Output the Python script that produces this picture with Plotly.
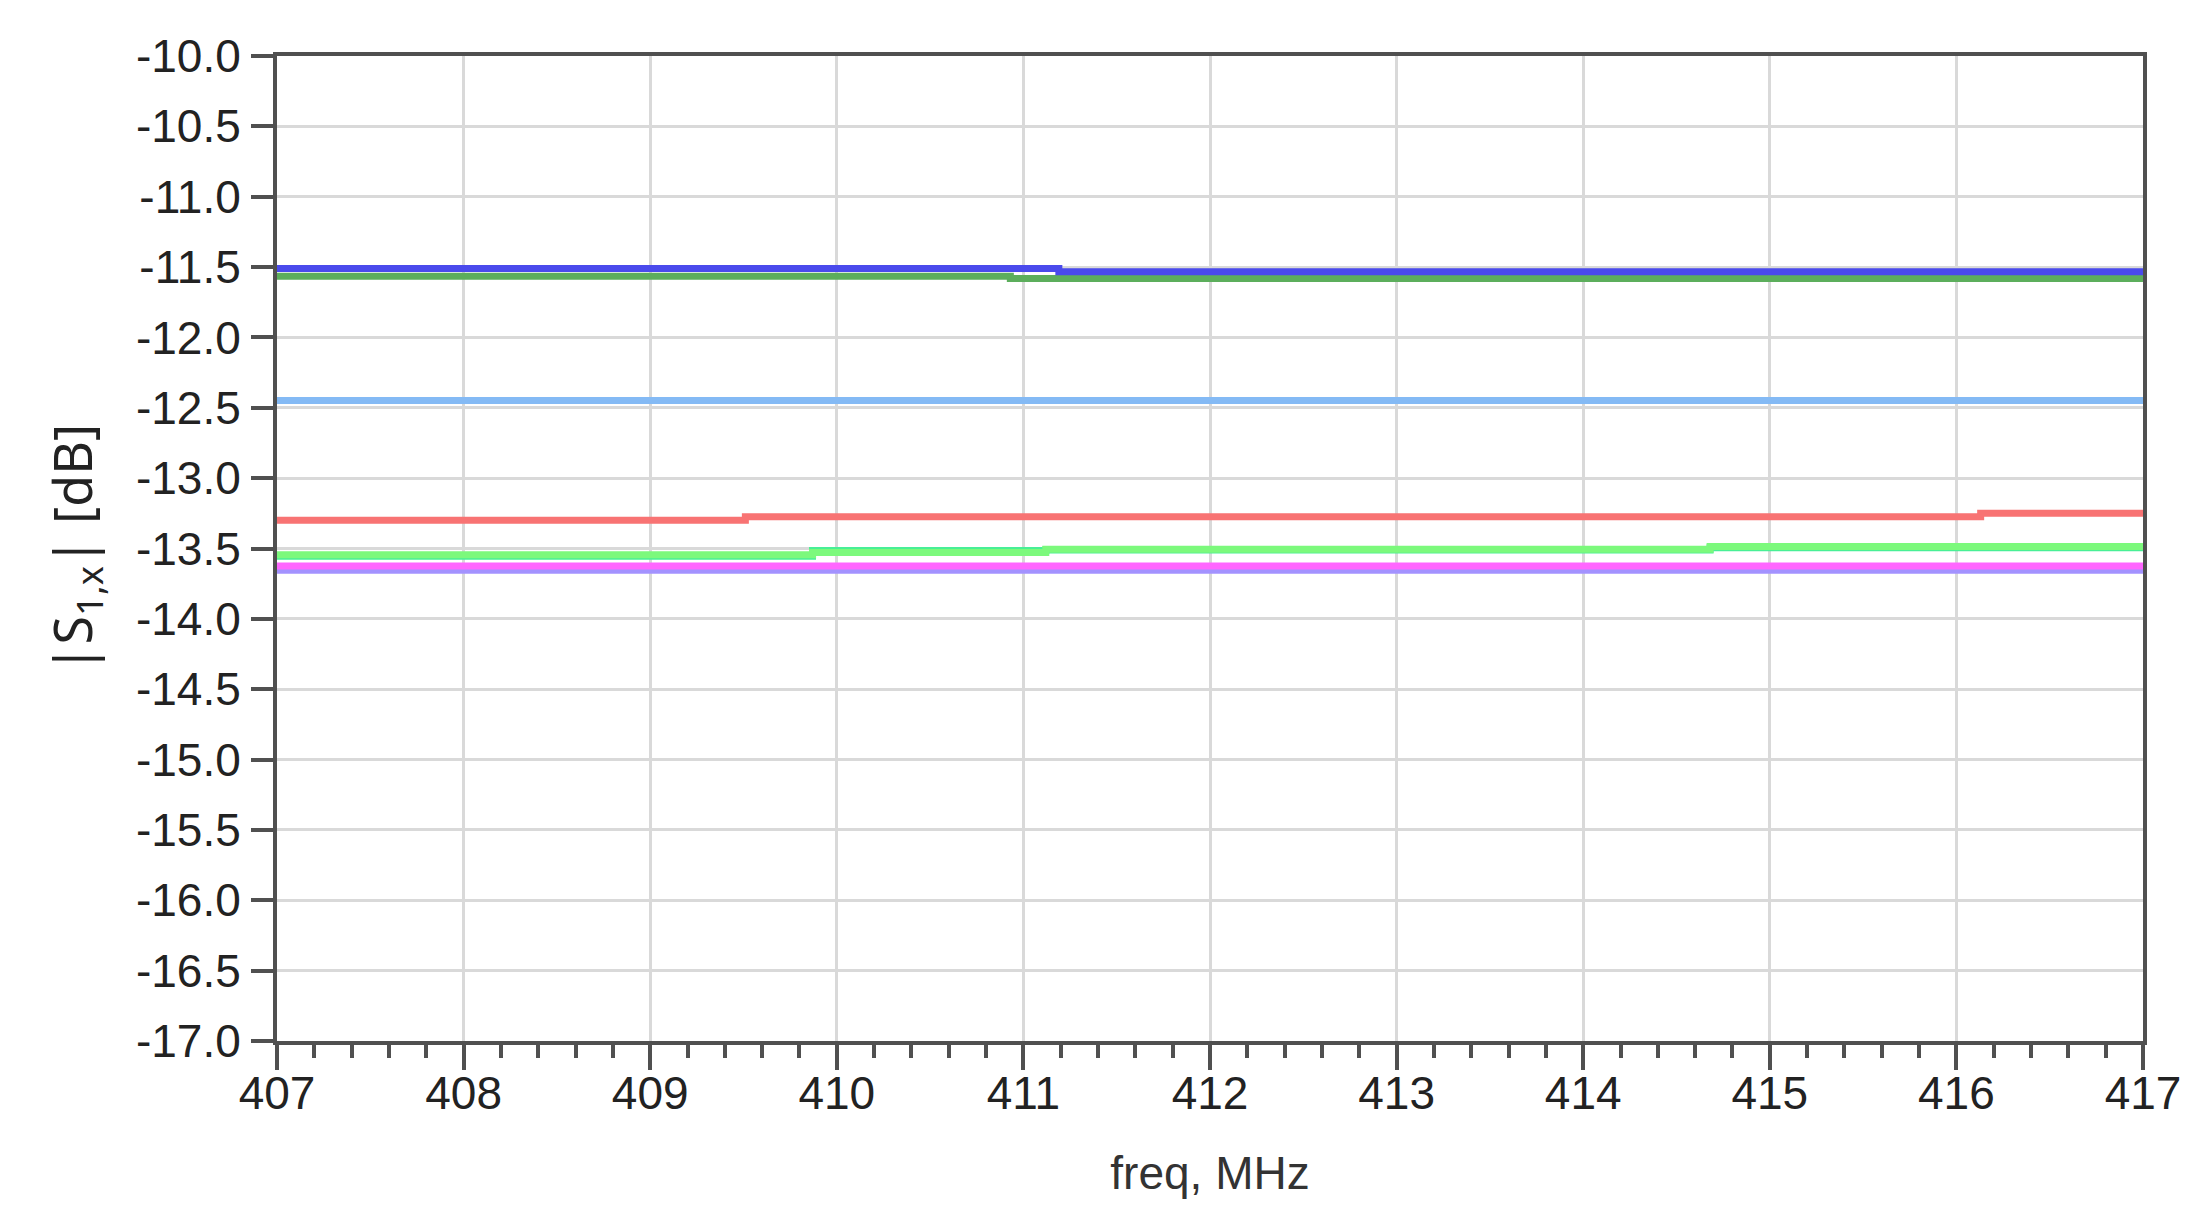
import plotly.graph_objects as go

# Frequency breakpoints (MHz) and |S1,x| levels (dB) for each trace (step-wise flat)
freq_lavender = [407, 417]
s_lavender = [-13.655, -13.655]

freq_magenta = [407, 417]
s_magenta = [-13.625, -13.625]

freq_spring = [407, 409.87, 411.12, 414.68, 417]
s_spring = [-13.555, -13.515, -13.51, -13.495, -13.495]

freq_lime = [407, 409.87, 411.12, 414.68, 417]
s_lime = [-13.545, -13.528, -13.505, -13.485, -13.485]

freq_red = [407, 409.51, 416.13, 417]
s_red = [-13.30, -13.274, -13.25, -13.25]

freq_lightblue = [407, 417]
s_lightblue = [-12.448, -12.448]

freq_darkgreen = [407, 410.93, 417]
s_darkgreen = [-11.565, -11.582, -11.582]

freq_blue = [407, 411.19, 417]
s_blue = [-11.51, -11.533, -11.533]

x_ticks = [407, 408, 409, 410, 411, 412, 413, 414, 415, 416, 417]
y_ticks = [-10.0, -10.5, -11.0, -11.5, -12.0, -12.5, -13.0, -13.5, -14.0,
           -14.5, -15.0, -15.5, -16.0, -16.5, -17.0]

traces = [
    (freq_lavender, s_lavender, "#a392ff"),
    (freq_magenta, s_magenta, "#ff66ff"),
    (freq_spring, s_spring, "#48ef96"),
    (freq_lime, s_lime, "#7cf97c"),
    (freq_red, s_red, "#f87373"),
    (freq_lightblue, s_lightblue, "#84baf5"),
    (freq_darkgreen, s_darkgreen, "#5cae5c"),
    (freq_blue, s_blue, "#4a4aec"),
]

fig = go.Figure()
for fx, fy, col in traces:
    fig.add_trace(go.Scatter(x=fx, y=fy, mode="lines", line=dict(color=col, width=7, shape="hv"),
                             showlegend=False, hoverinfo="skip"))

axis_col = "#505050"
grid_col = "#d9d9d9"
tick_font = dict(family="Liberation Sans, Arial, sans-serif", size=46, color="#222222")

fig.update_layout(
    width=2179, height=1209,
    margin=dict(l=269, r=44, t=48, b=176, autoexpand=False),
    paper_bgcolor="white", plot_bgcolor="white",
    showlegend=False,
)

fig.update_xaxes(
    range=[407, 417],
    tickmode="array", tickvals=x_ticks, ticktext=[str(v) for v in x_ticks],
    tickfont=tick_font,
    ticks="outside", ticklen=25, tickwidth=4, tickcolor=axis_col,
    ticklabelstandoff=-16,
    minor=dict(dtick=0.2, ticks="outside", ticklen=13, tickwidth=4, tickcolor=axis_col, showgrid=False),
    showgrid=True, gridcolor=grid_col, gridwidth=3,
    showline=True, linecolor=axis_col, linewidth=4, mirror=True,
    zeroline=False,
    title=dict(text="freq, MHz", font=dict(family="Liberation Sans, Arial, sans-serif", size=46, color="#333333"),
               standoff=40),
)

fig.update_yaxes(
    range=[-17, -10],
    tickmode="array", tickvals=y_ticks, ticktext=[f"{v:.1f}" for v in y_ticks],
    tickfont=tick_font,
    ticks="outside", ticklen=22, tickwidth=4, tickcolor=axis_col,
    ticklabelstandoff=1,
    showgrid=True, gridcolor=grid_col, gridwidth=3,
    showline=True, linecolor=axis_col, linewidth=4, mirror=True,
    zeroline=False,
    title=dict(text="|S<sub>1,x</sub>| [dB]", font=dict(family="Noto Sans, DejaVu Sans, sans-serif", size=52, color="#222222"),
               standoff=28),
)

fig.write_html("out.html")
